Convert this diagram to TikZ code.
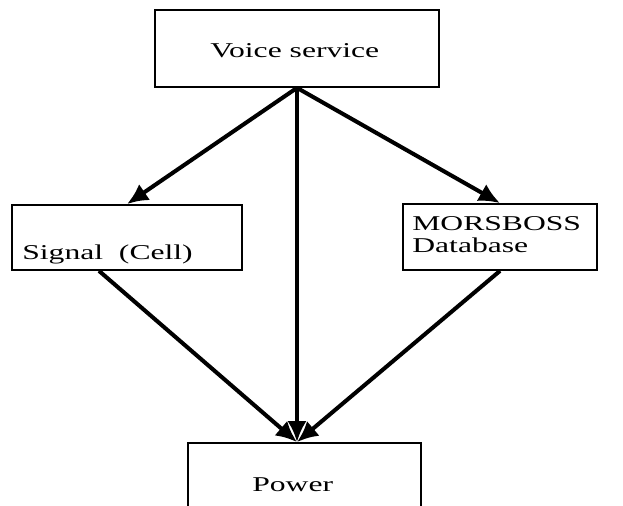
\documentclass[tikz,border=0pt]{standalone}
\usepackage{fontspec}
\setmainfont{Liberation Serif}[FakeStretch=1.5]
\usetikzlibrary{arrows.meta}

\tikzset{
	box/.style={draw, line width=1pt, inner sep=0pt},
	txt/.style={inner sep=0pt, anchor=base west, align=left, font=\fontsize{12}{13}\selectfont},
	link/.style={line width=2.3pt, -{Latex[length=12pt,width=11pt]}},
}

\begin{document}
\begin{tikzpicture}[x=0.02cm,y=0.02cm]
		\clip (0,0) rectangle (623,506);
		\fill[white] (0,0) rectangle (623,506);

		\node[box, minimum width=5.68cm, minimum height=1.54cm] (voice) at (297,457.5) {};
		\node[box, minimum width=4.6cm, minimum height=1.3cm] (signal) at (127,268.5) {};
		\node[box, minimum width=3.88cm, minimum height=1.32cm] (mors) at (500,269) {};
		\node[box, minimum width=4.66cm, minimum height=1.7cm] (power) at (304.5,20.5) {};
		\coordinate (hub) at (voice.south |- power.north);

		\node[txt] (voicetxt) at (210,448) {Voice service};
		\node[txt] (signaltxt) at (22,246) {Signal\ \ (Cell)};
		\node[txt] (morstxt) at (412,253) {MORSBOSS\\Database};
		\node[txt] (powertxt) at (252,14) {Power};

		\draw[link] (voice.south) -- (signal.north);
		\draw[link] (voice.south) -- (mors.north);
		\draw[link] (voice.south) -- (hub);		% straight down
		\draw[link] (signal.230) -- (hub);
		\draw[link] (mors.south) -- (hub);
	\end{tikzpicture}
\end{document}
